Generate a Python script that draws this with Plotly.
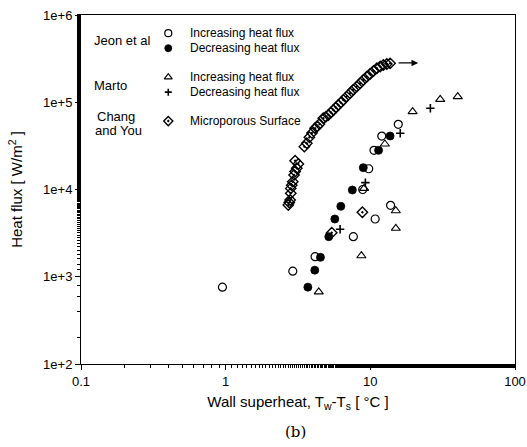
import numpy as np
import plotly.graph_objects as go

# Jeon et al. - increasing heat flux (open circles)
jeon_inc_x = [0.95, 2.91, 4.15, 7.63, 10.8, 13.8, 8.86, 9.75, 10.6, 12.0, 15.6]
jeon_inc_y = [760, 1160, 1700, 2880, 4590, 6590, 10000, 17300, 28100, 41000, 55900]

# Jeon et al. - decreasing heat flux (filled circles)
jeon_dec_x = [3.70, 4.13, 4.52, 5.16, 5.68, 6.25, 7.51, 8.94, 11.4, 13.7]
jeon_dec_y = [760, 1190, 1670, 2880, 4590, 6410, 9870, 17800, 28100, 41000]

# Marto - increasing heat flux (open triangles)
marto_inc_x = [4.40, 8.67, 15.0, 15.0, 9.05, 12.6, 19.6, 30.4, 40.2]
marto_inc_y = [670, 1740, 3590, 5710, 10300, 33200, 78000, 108000, 116000]

# Marto - decreasing heat flux (plus signs)
marto_dec_x = [6.18, 9.24, 16.1, 26.0]
marto_dec_y = [3500, 12000, 44100, 85300]

# Chang and You - microporous surface
chang_x = [2.71, 2.75, 2.79, 2.82, 2.82, 2.86, 2.91, 2.97, 3.02, 3.10, 3.18, 3.02,
           3.50, 3.64, 3.79, 3.95, 4.15, 4.30, 4.45, 4.73, 4.92, 5.13, 5.35, 5.55,
           5.78, 6.01, 6.25, 6.51, 6.85, 7.24, 7.62, 8.06, 8.50, 8.94, 9.45, 9.95,
           10.5, 11.1, 11.7, 12.3, 13.0, 13.7, 5.41, 8.81]
chang_y = [6640, 7100, 7580, 9040, 10300, 11200, 12300, 14700, 16100, 17500, 19600, 21400,
           31000, 33900, 39700, 44500, 50300, 53000, 56300, 65500, 68000, 71400, 76500, 81500,
           87000, 93000, 99000, 106000, 116000, 127000, 139000, 151000, 165000, 180000, 196000, 211000,
           228000, 245000, 257000, 267000, 274000, 279000, 3200, 5480]

# Arrow to the right of the microporous curve
arrow_x = [15.3, 21.4]
arrow_y = 282000

x_ticks = [0.1, 1, 10, 100]
x_tick_text = ["0.1", "1", "10", "100"]
y_ticks = [1e2, 1e3, 1e4, 1e5, 1e6]
y_tick_text = ["1e+2", "1e+3", "1e+4", "1e+5", "1e+6"]

# Legend layout: group label, marker style, entry text
legend_groups = ["Jeon et al", "Marto", "Chang", "and You"]
legend_texts = ["Increasing heat flux", "Decreasing heat flux",
                "Increasing heat flux", "Decreasing heat flux",
                "Microporous Surface"]

FONT = "Liberation Sans, Arial, sans-serif"

sym_open_circle = dict(symbol="circle-open", size=8, color="black", line=dict(width=1.2, color="black"))
sym_filled_circle = dict(symbol="circle", size=8, color="black", line=dict(width=0.8, color="black"))
sym_triangle = dict(symbol="triangle-up-open", size=8, color="black", line=dict(width=1.1, color="black"))
sym_plus = dict(symbol="cross-thin-open", size=6, color="black", line=dict(width=1.6, color="black"))
sym_diamond = dict(symbol="diamond-open-dot", size=8, color="black", line=dict(width=1.4, color="black"))

fig = go.Figure()

series = [
    (jeon_inc_x, jeon_inc_y, sym_open_circle),
    (jeon_dec_x, jeon_dec_y, sym_filled_circle),
    (marto_inc_x, marto_inc_y, sym_triangle),
    (marto_dec_x, marto_dec_y, sym_plus),
    (chang_x, chang_y, sym_diamond),
]
for xs, ys, mk in series:
    fig.add_trace(go.Scatter(x=xs, y=ys, mode="markers", marker=mk,
                             showlegend=False, hoverinfo="skip"))

# Hand-laid legend symbols on an overlay axis spanning the plot area
leg_sym_x = 0.2011
leg_sym_y = [0.948, 0.905, 0.822, 0.779, 0.696]
leg_syms = [sym_open_circle, sym_filled_circle, sym_triangle, sym_plus, sym_diamond]
for yy, mk in zip(leg_sym_y, leg_syms):
    m = dict(mk)
    m["size"] = mk["size"] - 1
    fig.add_trace(go.Scatter(x=[leg_sym_x], y=[yy], mode="markers", marker=m,
                             xaxis="x2", yaxis="y2", showlegend=False, hoverinfo="skip"))

annotations = []
for txt, yy in zip(legend_texts, leg_sym_y):
    annotations.append(dict(x=0.247, y=yy, xref="paper", yref="paper", text=txt,
                            showarrow=False, xanchor="left", yanchor="middle",
                            font=dict(family=FONT, size=12, color="black")))
group_pos = [(0.026, 0.926), (0.026, 0.799), (0.033, 0.708), (0.027, 0.670)]
for txt, (xx, yy) in zip(legend_groups, group_pos):
    annotations.append(dict(x=xx, y=yy, xref="paper", yref="paper", text=txt,
                            showarrow=False, xanchor="left", yanchor="middle",
                            font=dict(family=FONT, size=13, color="black")))

# Arrow (log axes take log10 coordinates for annotations)
annotations.append(dict(x=np.log10(arrow_x[1]), y=np.log10(arrow_y),
                        ax=np.log10(arrow_x[0]), ay=np.log10(arrow_y),
                        xref="x", yref="y", axref="x", ayref="y",
                        text="", showarrow=True, arrowhead=2, arrowsize=1.1,
                        arrowwidth=1.2, arrowcolor="black"))

# Figure caption
annotations.append(dict(x=0.495, y=-0.195, xref="paper", yref="paper", text="(b)",
                        showarrow=False, xanchor="center", yanchor="middle",
                        font=dict(family="DejaVu Serif, serif", size=15, color="black")))

axis_common = dict(showline=True, linecolor="black", linewidth=1, mirror=True,
                   showgrid=False, zeroline=False, ticks="outside", ticklen=5,
                   tickcolor="black", tickwidth=1, automargin=False,
                   tickfont=dict(family=FONT, size=13, color="black"),
                   minor=dict(ticks="outside", ticklen=3, tickcolor="black", showgrid=False))

fig.update_layout(
    width=527, height=447,
    margin=dict(l=81, r=12, t=15, b=83),
    paper_bgcolor="white", plot_bgcolor="white",
    xaxis=dict(type="log", range=[-1, 2], tickvals=x_ticks, ticktext=x_tick_text,
               title=dict(text="Wall superheat, T<sub>w</sub>-T<sub>s</sub> [ °C ]",
                          font=dict(family=FONT, size=15, color="black"), standoff=8),
               **axis_common),
    yaxis=dict(type="log", range=[2, 6], tickvals=y_ticks, ticktext=y_tick_text,
               title=dict(text="Heat flux [ W/m<sup>2</sup> ]",
                          font=dict(family=FONT, size=15, color="black"), standoff=16),
               **axis_common),
    xaxis2=dict(overlaying="x", range=[0, 1], visible=False, fixedrange=True),
    yaxis2=dict(overlaying="y", range=[0, 1], visible=False, fixedrange=True),
    annotations=annotations,
)

fig.write_html("out.html")
